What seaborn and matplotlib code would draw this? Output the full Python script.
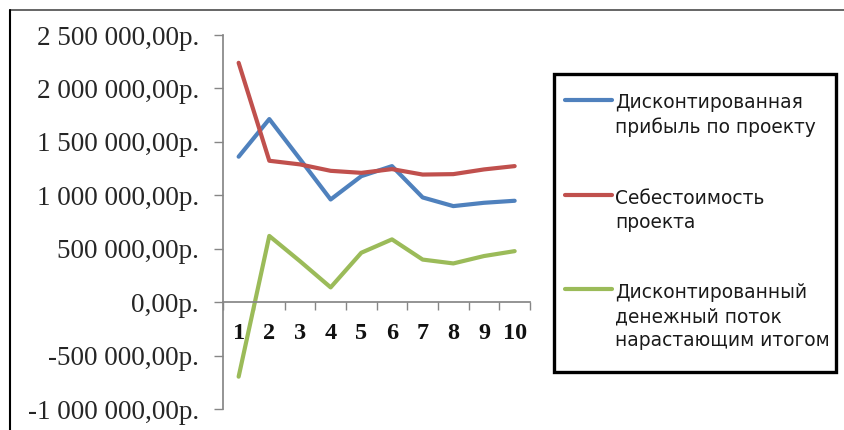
import numpy as np
import pandas as pd
import seaborn as sns
import matplotlib.pyplot as plt
from matplotlib.lines import Line2D
from matplotlib.patches import Rectangle
from matplotlib.ticker import FuncFormatter, FixedLocator
from matplotlib.legend_handler import HandlerLine2D

# values (roubles)
years = [1, 2, 3, 4, 5, 6, 7, 8, 9, 10]
profit = [1362000, 1714000, 1340000, 962000, 1180000, 1274000, 981000, 900000, 931000, 950000]
cost = [2240000, 1324000, 1290000, 1230000, 1211000, 1246000, 1195000, 1199000, 1243000, 1274000]
cash_flow = [-695000, 621000, 385000, 140000, 464000, 589000, 400000, 364000, 433000, 479000]

series = ["profit", "cost", "cash_flow"]
labels = ["Дисконтированная\nприбыль по проекту",
          "Себестоимость\nпроекта",
          "Дисконтированный\nденежный поток\nнарастающим итогом"]
colors = ["#4F81BD", "#C0504D", "#9BBB59"]
y_ticks = [-1000000, -500000, 0, 500000, 1000000, 1500000, 2000000, 2500000]

df = pd.DataFrame({
    "year": years * 3,
    "value": profit + cost + cash_flow,
    "series": np.repeat(series, len(years)),
})

sns.set_theme(style="white")
plt.rcParams["font.family"] = ["Liberation Serif", "DejaVu Serif"]

W, H = 844, 430
fig = plt.figure(figsize=(W / 100, H / 100), dpi=100)
ax = fig.add_axes([223.3 / W, 1 - 409.3 / H, (530 - 223.3) / W, (409.3 - 35) / H])

sns.lineplot(data=df, x="year", y="value", hue="series", hue_order=series,
             palette=colors, linewidth=3, errorbar=None, legend=False, ax=ax)

ax.set_xlim(0.5, 10.5)
ax.set_ylim(-1000000, 2500000)
ax.set_xlabel("")
ax.set_ylabel("")

spine_c = "#868686"
for s in ["top", "right"]:
    ax.spines[s].set_visible(False)
ax.spines["left"].set_color(spine_c)
ax.spines["bottom"].set_color(spine_c)
ax.spines["bottom"].set_position(("data", 0))

ax.yaxis.set_major_locator(FixedLocator(y_ticks))
ax.yaxis.set_major_formatter(FuncFormatter(
    lambda v, p: f"{v:,.2f}".replace(",", " ").replace(".", ",") + "р."))
ax.tick_params(axis="y", length=6.5, width=1, color=spine_c, pad=11,
               labelsize=19.5, labelcolor="#262626", left=True)

# labels at category centres, tick marks at category boundaries
ax.set_xticks(years)
ax.set_xticklabels([str(y) for y in years], fontweight="bold")
ax.set_xticks(np.arange(0.5, 11, 1), minor=True)
ax.tick_params(axis="x", which="major", length=0, pad=15, labelsize=17.5, labelcolor="#111111")
ax.tick_params(axis="x", which="minor", length=5.5, width=1, color=spine_c, bottom=True)


class TopLine(HandlerLine2D):
    # put the legend line beside the first text line, as in the original
    def __init__(self, lift, **kw):
        super().__init__(**kw)
        self.lift = lift

    def create_artists(self, legend, orig_handle, xdescent, ydescent, width, height, fontsize, trans):
        return super().create_artists(legend, orig_handle, xdescent, ydescent,
                                      width, height + 2 * self.lift, fontsize, trans)


handles = ax.get_lines()[:3]
hmap = {}
for h, lab in zip(handles, labels):
    n = lab.count("\n")
    hmap[h] = TopLine(lift=(n * 12.4 + 4) * 0.72)

leg = fig.legend(handles, labels, handler_map=hmap, loc="upper left",
                 bbox_to_anchor=(565 / W, 1 - 93 / H), frameon=False,
                 borderpad=0, borderaxespad=0, handlelength=2.5, handletextpad=0.2,
                 labelspacing=2.78,
                 prop={"family": "DejaVu Sans", "size": 13.4})
for t in leg.get_texts():
    t.set_linespacing(1.33)
    t.set_color("#1a1a1a")

# legend frame and outer chart frame
fig.add_artist(Rectangle((554 / W, 1 - 372 / H), (836 - 554) / W, (372 - 74) / H,
                         transform=fig.transFigure, fill=False, edgecolor="black", linewidth=2.4))
fig.add_artist(Line2D([10 / W, 1], [1 - 10 / H, 1 - 10 / H], transform=fig.transFigure,
                      color="#595959", linewidth=1.3))
fig.add_artist(Line2D([10 / W, 10 / W], [0, 1 - 10 / H], transform=fig.transFigure,
                      color="black", linewidth=1.5))

fig.savefig("out.png", dpi=100)
